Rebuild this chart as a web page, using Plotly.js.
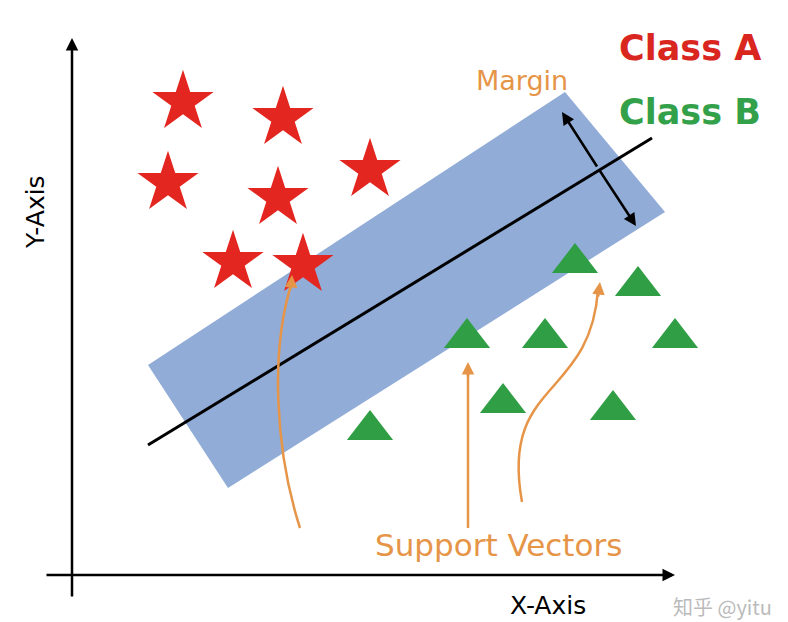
<!DOCTYPE html>
<html><head><meta charset="utf-8">
<script src="https://cdn.plot.ly/plotly-3.0.1.min.js"></script>
<style>body{margin:0}#plot{width:788px;height:622px}</style>
</head><body><div id="plot"></div>
<script>
// diagram laid out in picture coordinates (x right, y down)
const classAX = [183, 283, 168, 278, 370, 233, 303];
const classAY = [102, 118, 183, 198, 170, 262, 265];
const classBX = [575, 638, 467, 545, 675, 503, 613, 370];
const classBY = [263, 286, 338, 338, 338, 403, 410, 430];
const hyperX = [148, 652];
const hyperY = [445, 138];

const orange = '#e69548';
const data = [
  {x: classAX, y: classAY, mode: 'markers', type: 'scatter',
   marker: {symbol: 'star', size: 46, color: '#e3261f', line: {width: 0}}},
  {x: classBX, y: classBY, mode: 'markers', type: 'scatter',
   marker: {symbol: 'triangle-up', size: 40, color: '#2f9e44', line: {width: 0}}},
  {x: hyperX, y: hyperY, mode: 'lines', type: 'scatter', line: {color: '#000', width: 3}}
];

const shapes = [
  {type: 'path', path: 'M 148 365 L 565 92 L 665 212 L 228 488 Z', fillcolor: 'rgba(126,158,207,0.85)', line: {width: 0}, layer: 'below'},
  {type: 'path', path: 'M 300 528 C 275 450, 270 350, 292 282', line: {color: orange, width: 2.5}},
  {type: 'path', path: 'M 468 528 L 468 370', line: {color: orange, width: 2.5}},
  {type: 'path', path: 'M 522 502 C 500 380, 590 400, 598 290', line: {color: orange, width: 2.5}}
];

const ann = (x, y, ax, ay, color) => ({x, y, ax, ay, xref: 'x', yref: 'y', axref: 'x', ayref: 'y',
  showarrow: true, arrowhead: 2, arrowsize: 1, arrowwidth: 2.5, arrowcolor: color, text: ''});

const annotations = [
  ann(72, 38, 72, 598, '#000'),
  ann(675, 575, 45, 575, '#000'),
  ann(562, 112, 598, 168, '#000'),
  ann(636, 226, 598, 168, '#000'),
  ann(292, 275, 291, 290, orange),
  ann(468, 362, 468, 378, orange),
  ann(600, 282, 598, 298, orange),
  {x: 690, y: 48, text: '<b>Class A</b>', showarrow: false, font: {size: 35, color: '#d9261f', family: 'DejaVu Sans'}},
  {x: 690, y: 112, text: '<b>Class B</b>', showarrow: false, font: {size: 35, color: '#33a04a', family: 'DejaVu Sans'}},
  {x: 522, y: 80, text: 'Margin', showarrow: false, font: {size: 27, color: orange, family: 'DejaVu Sans'}},
  {x: 498, y: 545, text: 'Support Vectors', showarrow: false, font: {size: 31, color: orange, family: 'DejaVu Sans'}},
  {x: 548, y: 605, text: 'X-Axis', showarrow: false, font: {size: 25, color: '#000', family: 'DejaVu Sans'}},
  {x: 35, y: 212, text: 'Y-Axis', textangle: -90, showarrow: false, font: {size: 25, color: '#000', family: 'DejaVu Sans'}},
  {x: 722, y: 606, text: '知乎 @yitu', showarrow: false, font: {size: 20, color: '#bbbbbb', family: 'Noto Sans CJK SC'}}
];

Plotly.newPlot('plot', data, {
  width: 788, height: 622, margin: {l: 0, r: 0, t: 0, b: 0},
  showlegend: false, paper_bgcolor: '#fff', plot_bgcolor: '#fff',
  xaxis: {range: [0, 788], visible: false, fixedrange: true},
  yaxis: {range: [622, 0], visible: false, fixedrange: true},
  shapes, annotations
}, {displayModeBar: false, staticPlot: true});
</script></body></html>
